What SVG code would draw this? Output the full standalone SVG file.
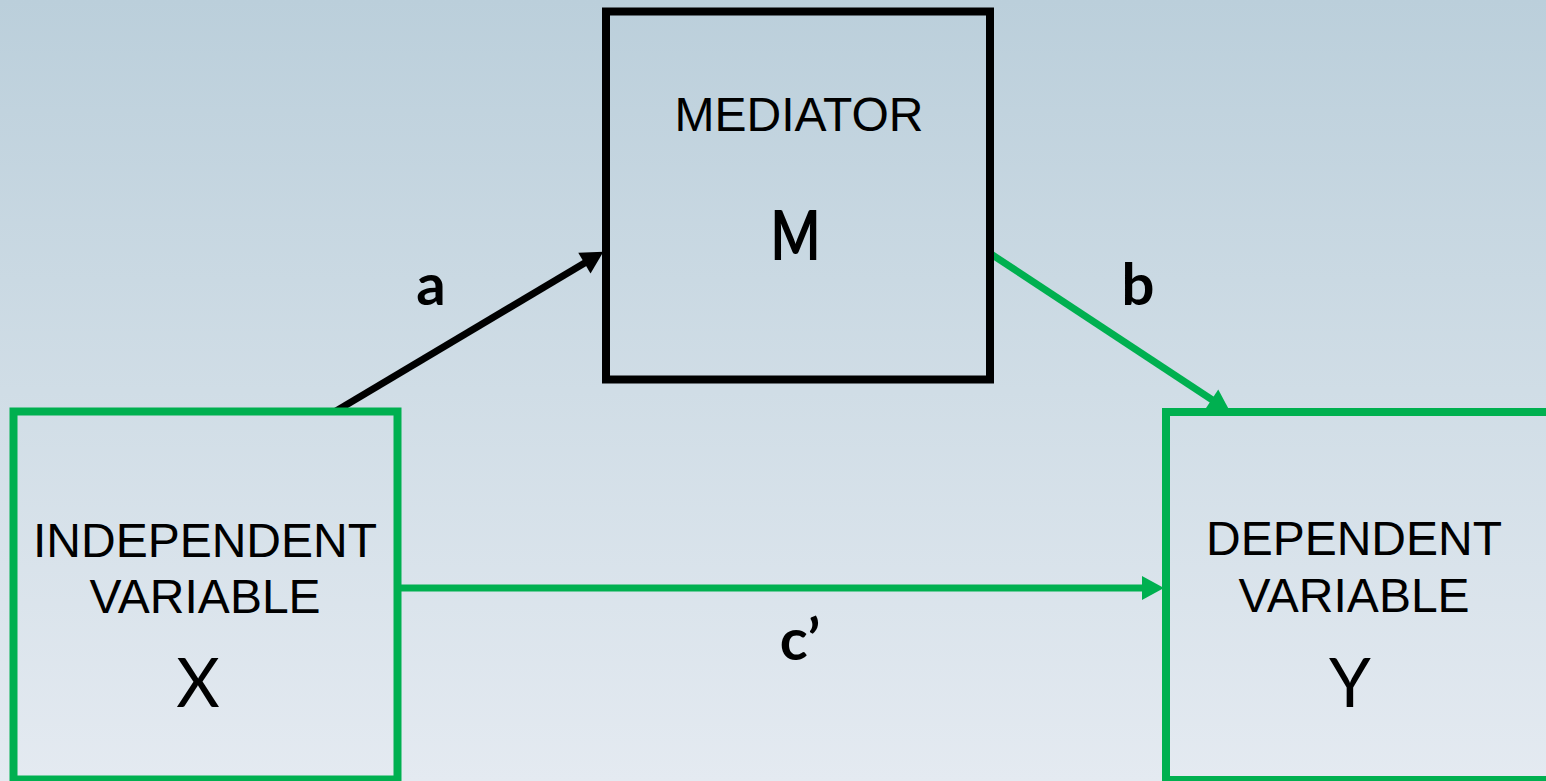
<svg xmlns="http://www.w3.org/2000/svg" width="1546" height="781" viewBox="0 0 1546 781">
  <defs>
    <linearGradient id="bg" x1="0" y1="0" x2="0" y2="1">
      <stop offset="0" stop-color="#BBCFDB"/>
      <stop offset="0.5" stop-color="#D0DDE6"/>
      <stop offset="1" stop-color="#E4EAF1"/>
    </linearGradient>
    <marker id="arrBlack" markerUnits="userSpaceOnUse" markerWidth="22" markerHeight="26" refX="10" refY="12" orient="auto" overflow="visible">
      <path d="M0,0 L22,12 L0,24 z" fill="#000"/>
    </marker>
    <marker id="arrGreen" markerUnits="userSpaceOnUse" markerWidth="22" markerHeight="26" refX="10" refY="12" orient="auto" overflow="visible">
      <path d="M0,0 L22,12 L0,24 z" fill="#00B050"/>
    </marker>
  </defs>
  <style>
    .box { fill: none; stroke-width: 8; }
    .black { stroke: #000; }
    .green { stroke: #00B050; }
    .lbl { font-family: "Liberation Sans", Arial, sans-serif; font-size: 48px; fill: #000; text-anchor: middle; }
    .sym { font-family: Lato, "Open Sans", sans-serif; font-size: 67px; fill: #000; text-anchor: middle; }
    .symM { font-family: Lato, "Open Sans", sans-serif; font-weight: bold; font-size: 69px; fill: #000; text-anchor: middle; }
    .path { font-family: Lato, "Open Sans", sans-serif; font-weight: bold; font-size: 58px; fill: #000; text-anchor: middle; }
    .conn { fill: none; stroke-width: 7; }
  </style>
  <rect x="0" y="0" width="1546" height="781" fill="url(#bg)"/>

  <g id="connectors">
    <line class="conn black" x1="336" y1="411" x2="593" y2="258" marker-end="url(#arrBlack)"/>
    <line class="conn green" x1="991" y1="254" x2="1220" y2="405" marker-end="url(#arrGreen)"/>
    <line class="conn green" x1="401" y1="588" x2="1152" y2="588" marker-end="url(#arrGreen)"/>
    <text class="path" x="431" y="305">a</text>
    <text class="path" x="1138" y="305">b</text>
    <text class="path" x="800" y="660">c’</text>
  </g>

  <g id="node-mediator">
    <rect class="box black" x="606" y="11.5" width="384" height="368"/>
    <text class="lbl" x="799" y="131">MEDIATOR</text>
    <text class="symM" x="795.5" y="260" textLength="50" lengthAdjust="spacingAndGlyphs">M</text>
  </g>

  <g id="node-x">
    <rect class="box green" x="13.5" y="411.5" width="384" height="368"/>
    <text class="lbl" x="205" y="557">INDEPENDENT</text>
    <text class="lbl" x="205" y="613">VARIABLE</text>
    <text class="sym" x="198" y="707">X</text>
  </g>

  <g id="node-y">
    <rect class="box green" x="1166" y="412" width="384" height="368"/>
    <text class="lbl" x="1354" y="555">DEPENDENT</text>
    <text class="lbl" x="1354" y="612">VARIABLE</text>
    <text class="sym" x="1350" y="707">Y</text>
  </g>
</svg>
